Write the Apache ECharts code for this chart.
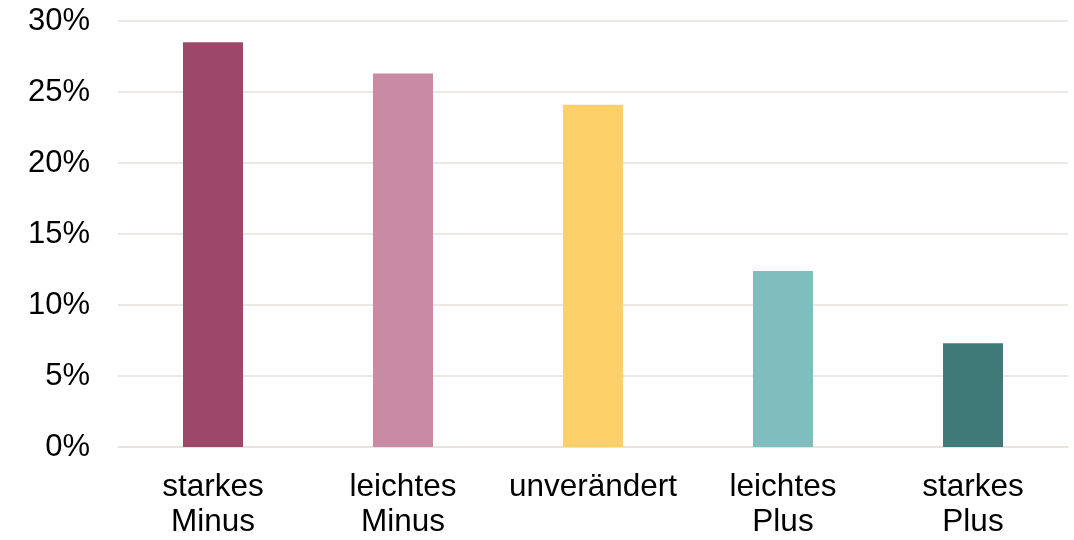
<!DOCTYPE html>
<html>
<head>
<meta charset="utf-8">
<script src="https://cdn.jsdelivr.net/npm/echarts@6/dist/echarts.min.js"></script>
<style>
  html, body { margin: 0; padding: 0; background: #fff; }
  #chart { width: 1074px; height: 540px; }
</style>
</head>
<body>
<div id="chart"></div>
<script>
// Categories and shares (percent)
const categories = ['starkes\nMinus', 'leichtes\nMinus', 'unverändert', 'leichtes\nPlus', 'starkes\nPlus'];
const shares = [28.5, 26.3, 24.1, 12.4, 7.3];
const barColors = ['#9D4868', '#C98AA3', '#FED069', '#80BDBE', '#3F7A78'];

const gridColor = '#E6E1DB';
const font = 'Liberation Sans, Arial, sans-serif';

const chart = echarts.init(document.getElementById('chart'), null, { renderer: 'canvas' });
chart.setOption({
  animation: false,
  backgroundColor: '#ffffff',
  grid: { left: 118, right: 6, top: 21, bottom: 91, containLabel: false },
  xAxis: {
    type: 'category',
    data: categories,
    axisLine: { show: true, lineStyle: { color: gridColor, width: 1.5 } },
    axisTick: { show: false },
    axisLabel: {
      color: '#000',
      fontFamily: font,
      fontSize: 31.5,
      lineHeight: 35,
      margin: 23,
      interval: 0
    }
  },
  yAxis: {
    type: 'value',
    min: 0,
    max: 30,
    interval: 5,
    axisLine: { show: false },
    axisTick: { show: false },
    splitLine: { show: true, lineStyle: { color: gridColor, width: 1.5 } },
    axisLabel: {
      color: '#000',
      fontFamily: font,
      fontSize: 31,
      margin: 28,
      padding: [3, 0, 0, 0],
      formatter: v => v + '%'
    }
  },
  series: [{
    type: 'bar',
    barWidth: 60,
    data: shares.map((v, i) => ({ value: v, itemStyle: { color: barColors[i] } }))
  }]
});
</script>
</body>
</html>
